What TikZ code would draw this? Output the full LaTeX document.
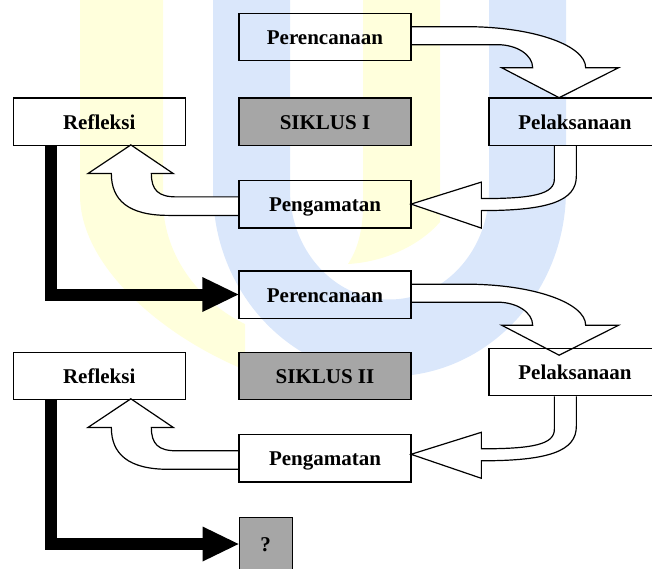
\documentclass[tikz,border=0pt]{standalone}
\usepackage{fontspec}
\setmainfont{Liberation Serif}
\usetikzlibrary{calc}
\definecolor{wmB}{RGB}{218,231,251}
\definecolor{wmY}{RGB}{255,255,220}
\definecolor{boxgray}{RGB}{166,166,166}
\pgfdeclarelayer{bg}
\pgfsetlayers{bg,main}
\tikzset{
  box/.style={draw,line width=1.3pt,minimum width=172pt,minimum height=47.3pt,inner sep=0pt,
    text height=15pt,text depth=0pt,font=\fontsize{21}{25}\selectfont\bfseries},
  graybox/.style={box,fill=boxgray},
  blockarrow/.style={draw,fill=white,line width=1.2pt,line join=miter},
  thickconn/.style={line width=12pt},
  arrowdown/.pic={
    \draw[blockarrow] (0,14) -- (55,14) .. controls (120.7,14) and (174,32.4) .. (174,55)
      -- (207,55) -- (147.5,85) -- (90,55) -- (121,55)
      .. controls (121,42.3) and (105.3,32) .. (86,32) -- (0,32);
  },
  arrowleft/.pic={
    \draw[blockarrow] (66,0) -- (66,33) .. controls (66,48) and (45,52.5) .. (-7,52.5)
      -- (-7,36) -- (-77.3,58) -- (-7,82) -- (-7,64.5)
      .. controls (60,64.5) and (88,55) .. (88,30) -- (88,0);
  },
  arrowup/.pic={
    \draw[blockarrow] (0,16.8) -- (-62,16.8) .. controls (-80,16.8) and (-87,10) .. (-87,-6.5)
      -- (-65,-6.5) -- (-107.5,-35.2) -- (-150.5,-6.5) -- (-127,-6.5)
      .. controls (-127,20) and (-110,35.3) .. (-70,35.3) -- (0,35.3);
  }
}
\begin{document}
\begin{tikzpicture}[x=1pt,y=-1pt]
\useasboundingbox (0,0) rectangle (652,569);
\clip (0,0) rectangle (652,569);

% nodes
\node[box] (P1) at (325,37) {Perencanaan};
\node[box] (R1) at (99.2,121.8) {Refleksi};
\node[graybox] (S1) at (325,121.8) {SIKLUS I};
\node[box] (L1) at (575,121.8) {Pelaksanaan};
\node[box] (G1) at (325,204.4) {Pengamatan};
\node[box] (P2) at (325,294.5) {Perencanaan};
\node[box] (R2) at (99.2,375.8) {Refleksi};
\node[graybox] (S2) at (325,375.8) {SIKLUS II};
\node[box] (L2) at (575,372) {Pelaksanaan};
\node[box] (G2) at (325,458.3) {Pengamatan};
\node[graybox,minimum width=53pt,minimum height=53pt] (Q) at (265.7,544) {?};

\begin{pgfonlayer}{bg}
  % watermark
  \fill[wmY] (80,-2) -- (80,195) .. controls (80,265) and (160,335) .. (245,370)
    -- (245,324) .. controls (205,305) and (163,260) .. (163,200) -- (163,-2) -- cycle;
  \fill[wmY] (363,-2) -- (363,210) .. controls (362,235) and (356,252) .. (348,264)
    .. controls (385,262) and (420,245) .. (440,222) -- (440,-2) -- cycle;
  \draw[wmB,line width=77pt] (251.5,-40) -- (251.5,190)
    arc[start angle=180,end angle=360,x radius=138pt,y radius=148pt] -- (527.5,-40);
  % block arrows, cycle I
  \pic at (P1.north east) {arrowdown};
  \pic at (L1.south west) {arrowleft};
  \pic at (G1.north west) {arrowup};
  % block arrows, cycle II
  \pic at (P2.north east) {arrowdown};
  \pic at (L2.south west) {arrowleft};
  \pic at (G2.north west) {arrowup};
\end{pgfonlayer}

% thick connectors
\draw[thickconn] ([xshift=38pt]R1.south west) |- ([xshift=-35pt]P2.west);
\fill ([xshift=-36pt,yshift=17.5pt]P2.west) -- (P2.west) -- ([xshift=-36pt,yshift=-17.5pt]P2.west) -- cycle;
\draw[thickconn] ([xshift=38pt]R2.south west) |- ([xshift=-35pt]Q.west);
\fill ([xshift=-36pt,yshift=17.5pt]Q.west) -- (Q.west) -- ([xshift=-36pt,yshift=-17.5pt]Q.west) -- cycle;
\end{tikzpicture}
\end{document}
